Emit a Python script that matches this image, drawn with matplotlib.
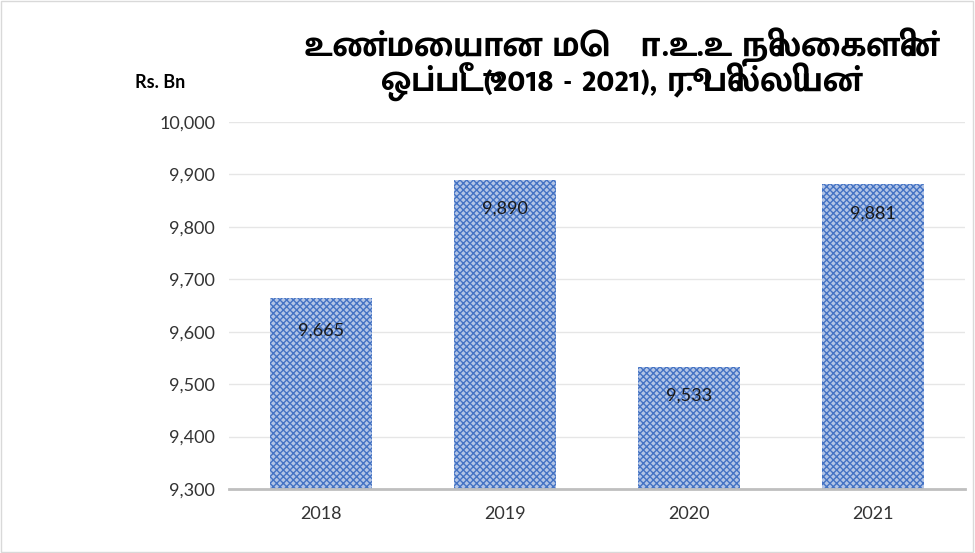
import matplotlib.pyplot as plt
import numpy as np

years = ['2018', '2019', '2020', '2021']
gdp = [9665, 9890, 9533, 9881]
labels = ['9,665', '9,890', '9,533', '9,881']
yticks = [9300, 9400, 9500, 9600, 9700, 9800, 9900, 10000]

title = 'உண்மையான மொ.உ.உ நிலைகளின்\nஒப்பீடு(2018 - 2021), ரூ. பில்லியன்'

plt.rcParams['font.family'] = ['Lato', 'Mukta Malar', 'DejaVu Sans']
plt.rcParams['hatch.linewidth'] = 1.0

fig = plt.figure(figsize=(9.75, 5.53), dpi=100)
ax = fig.add_axes([229/975, 1-489/553, 736/975, 367/553])

x = np.arange(len(years))
ax.bar(x, gdp, width=0.55, color='#b3c5e6', edgecolor='#4473c4', hatch='xxxxx', linewidth=0, zorder=2)

# label offsets below bar top (excel moved the first one down)
drop = [62, 55, 55, 55]
for i, v in enumerate(gdp):
    ax.text(x[i], v - drop[i], labels[i], ha='center', va='center', fontsize=13, color='#1a1a1a', zorder=3)

ax.set_xlim(-0.5, 3.5)
ax.set_ylim(9300, 10000)
ax.set_yticks(yticks)
ax.set_yticklabels(['{:,}'.format(t) for t in yticks], fontsize=13, color='#333333')
ax.set_xticks(x)
ax.set_xticklabels(years, fontsize=13, color='#333333')
ax.tick_params(length=0, pad=10)
ax.tick_params(axis='x', pad=12)
ax.grid(axis='y', color='#e6e6e6', linewidth=1, zorder=0)
for s in ['top', 'right', 'left']:
    ax.spines[s].set_visible(False)
ax.spines['bottom'].set_color('#bfbfbf')
ax.spines['bottom'].set_linewidth(2)

fig.text(622/975, 1-65/553, title, ha='center', va='center', fontsize=26, fontweight='bold',
         family=['Mukta Malar', 'DejaVu Sans'], linespacing=0.85)
fig.text(160/975, 1-82/553, 'Rs. Bn', ha='center', va='center', fontsize=13, fontweight='bold')

fig.patches.append(plt.Rectangle((0.001, 0.002), 0.997, 0.996, transform=fig.transFigure,
                                 fill=False, edgecolor='#d9d9d9', linewidth=1))

fig.savefig('out.png', dpi=100)
